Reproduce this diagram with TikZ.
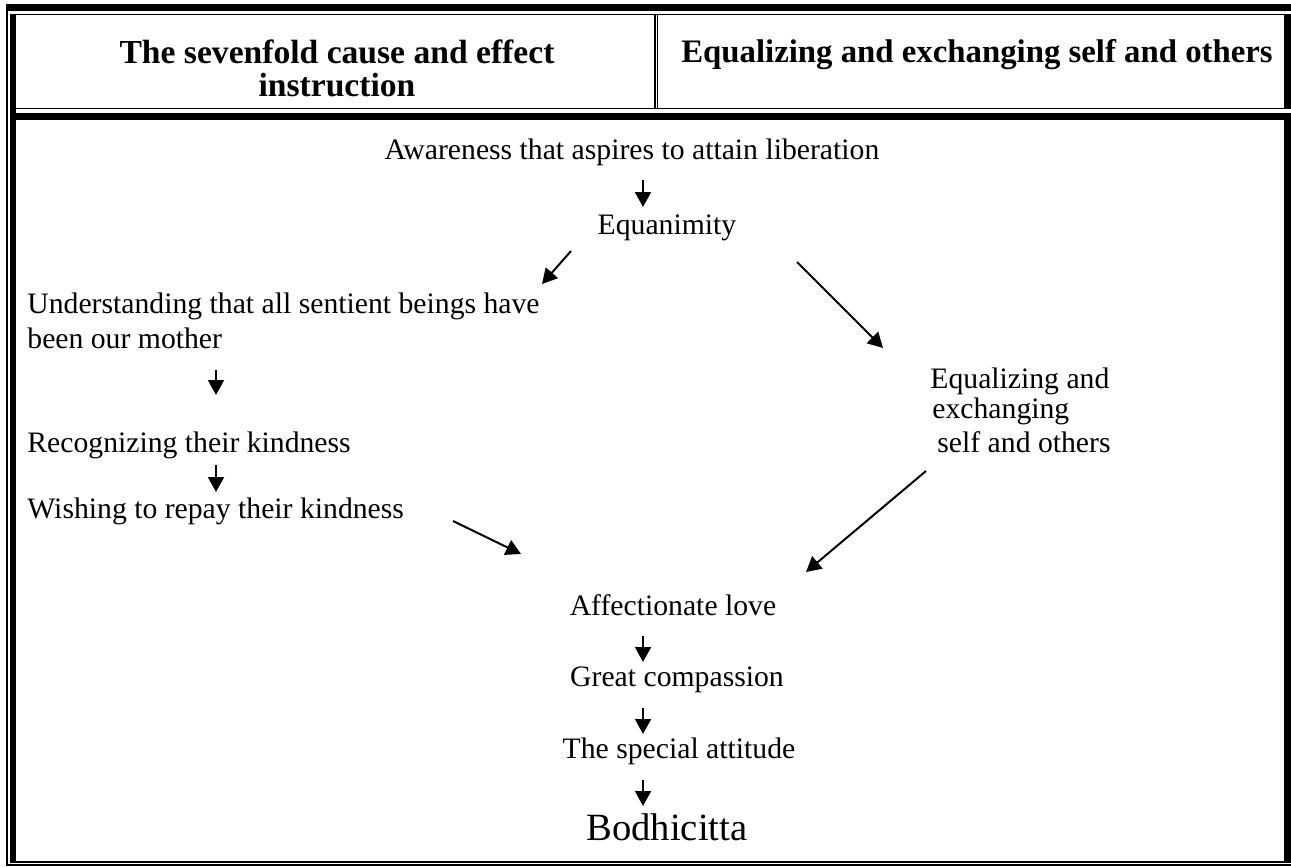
\documentclass[tikz,border=0pt]{standalone}
\usepackage{fontspec}
\setmainfont{Liberation Serif}
\usetikzlibrary{arrows.meta}
\begin{document}
\begin{tikzpicture}[x=0.5pt,y=-0.5pt,>={Triangle[length=7.5pt,width=8pt]},
  txt/.style={inner sep=0pt,font=\fontsize{14.85}{17}\selectfont},
  hd/.style={inner sep=0pt,align=center,font=\fontsize{16.8}{16.5}\selectfont\bfseries},
  arr/.style={->,line width=1pt}]
	 \useasboundingbox(0,0)rectangle(1291,867);
	 % double rules of the table
	 \fill(6,4)rectangle(1291,11);\fill(6,4)rectangle(7.5,865.5);
	 \fill(9.5,13.5)rectangle(16,862.5);\fill(16,13.5)rectangle(1284,15);
	 \fill(1284,13.5)rectangle(1291,108.5);\fill(16,107.8)rectangle(1284,109.3);
	 \fill(9.5,112.7)rectangle(1291,120);\fill(1284,112.7)rectangle(1291,862.5);
	 \fill(9.5,861)rectangle(1291,862.5);\fill(6,864)rectangle(1291,865.5);
	 \fill(654.3,15)rectangle(655.5,107.8);\fill(657,15)rectangle(658.2,107.8);
	 % headings
	 \node[hd,anchor=base](h1)at(337,96){The sevenfold cause and effect\\instruction};
	 \node[hd,anchor=base,font=\fontsize{16.4}{16.5}\selectfont\bfseries](h2)at(977,62){Equalizing and exchanging self and others};
	 % the two instructions
	 \node[txt,anchor=base](aw)at(632,159){Awareness that aspires to attain liberation};
	 \node[txt,anchor=base](eq)at(667,234){Equanimity};
	 \node[txt,anchor=base west](und1)at(27,313){Understanding that all sentient beings have};
	 \node[txt,anchor=base west](und2)at(27,348){been our mother};
	 \node[txt,anchor=base west](rec)at(27,452){Recognizing their kindness};
	 \node[txt,anchor=base west](wish)at(27,518){Wishing to repay their kindness};
	 \node[txt,anchor=base west](ex1)at(930,388){Equalizing and};
	 \node[txt,anchor=base west](ex2)at(932,418){exchanging};
	 \node[txt,anchor=base west](ex3)at(937,452){self and others};
	 \node[txt,anchor=base](aff)at(673,615){Affectionate love};
	 \node[txt,anchor=base](gc)at(677,686){Great compassion};
	 \node[txt,anchor=base](sa)at(679,758){The special attitude};
	 \node[txt,anchor=base,font=\fontsize{19.3}{22}\selectfont](bod)at(667,840){Bodhicitta};
	 % arrows
	 \coordinate(a1)at(643,180);\coordinate(b1)at(643,207);
	 \coordinate(a2)at(571,251);\coordinate(b2)at(542,284);
	 \coordinate(a3)at(797,262);\coordinate(b3)at(883,348);
	 \coordinate(a4)at(216,370);\coordinate(b4)at(216,395);
	 \coordinate(a5)at(216,465);\coordinate(b5)at(216,492);
	 \coordinate(a6)at(453,521);\coordinate(b6)at(521,554);
	 \coordinate(a7)at(926,471);\coordinate(b7)at(806,572);
	 \coordinate(a8)at(643,636);\coordinate(b8)at(643,662);
	 \coordinate(a9)at(643,708);\coordinate(b9)at(643,734);
	 \coordinate(a10)at(643,780);\coordinate(b10)at(643,806);
	 \foreach \i in {1,...,10}\draw[arr](a\i)--(b\i);
\end{tikzpicture}
\end{document}
